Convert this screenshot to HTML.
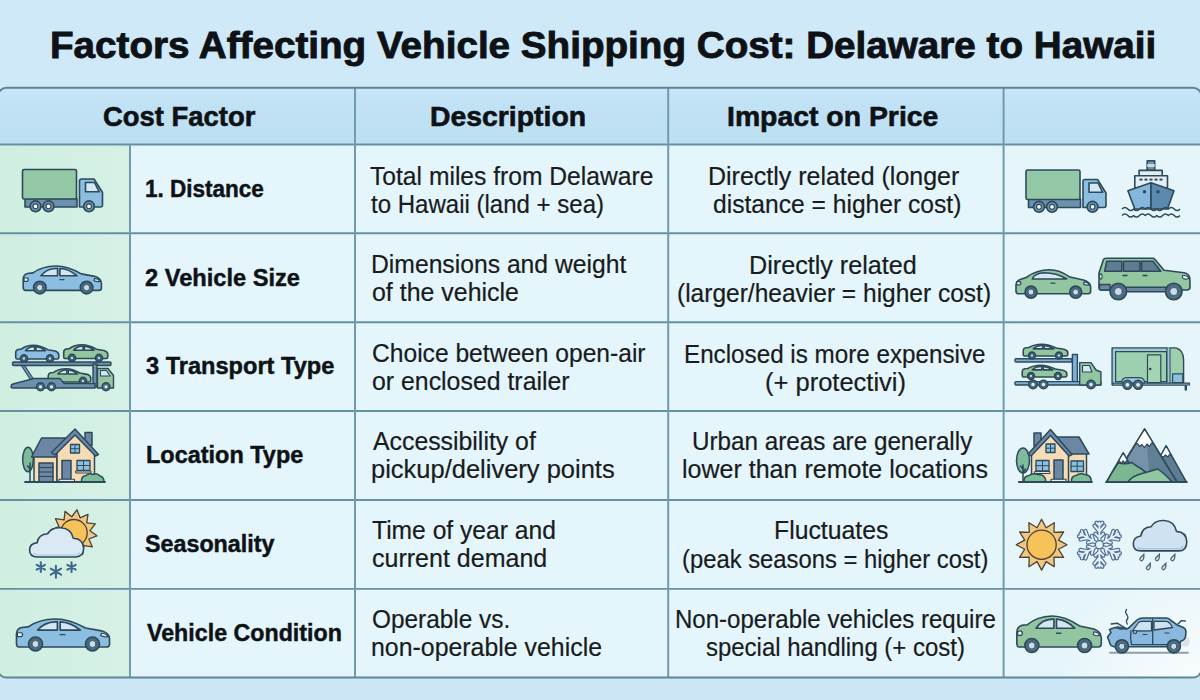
<!DOCTYPE html>
<html><head><meta charset="utf-8">
<style>
html,body{margin:0;padding:0;}
body{width:1200px;height:700px;overflow:hidden;position:relative;background:#cfe7f5;font-family:"Liberation Sans",sans-serif;color:#141414;}
#bg{position:absolute;left:0;top:0;}
.t{position:absolute;white-space:nowrap;transform-origin:0 0;-webkit-text-stroke:0.25px currentColor;}
</style></head><body>
<svg id="bg" width="1200" height="700" viewBox="0 0 1200 700"><defs><linearGradient id="gh" x1="0" y1="0" x2="0" y2="1"><stop offset="0" stop-color="#c8e6f6"/><stop offset="0.25" stop-color="#c1e2f4"/><stop offset="1" stop-color="#bcdff2"/></linearGradient><linearGradient id="gi" x1="0" y1="0" x2="1" y2="0"><stop offset="0" stop-color="#cfeee0"/><stop offset="1" stop-color="#d6f1e6"/></linearGradient><linearGradient id="gbg" x1="0" y1="0" x2="0" y2="1"><stop offset="0" stop-color="#cfe9f8"/><stop offset="1" stop-color="#cde6f5"/></linearGradient></defs><rect x="0" y="0" width="1200" height="700" fill="url(#gbg)"/><defs><clipPath id="tc"><rect x="-2.0" y="87.7" width="1203.5" height="589.9" rx="8.5" ry="8.5"/></clipPath></defs><g clip-path="url(#tc)"><rect x="-5" y="87.7" width="1210" height="56.8" fill="url(#gh)"/><rect x="-5" y="144.5" width="135.0" height="533.1" fill="url(#gi)"/><rect x="130.0" y="144.5" width="873.6" height="533.1" fill="#e4f6fb"/><rect x="1003.6" y="144.5" width="210.0" height="533.1" fill="#e6f5fa"/><defs><radialGradient id="glow" cx="1200" cy="690" r="140" gradientUnits="userSpaceOnUse"><stop offset="0" stop-color="#ffffff" stop-opacity="0.8"/><stop offset="1" stop-color="#ffffff" stop-opacity="0"/></radialGradient></defs><rect x="1003" y="589" width="200" height="90" fill="url(#glow)"/></g><g stroke="#6691a3" stroke-width="1.9"><line x1="-2.0" y1="144.5" x2="1201.5" y2="144.5"/><line x1="-2.0" y1="233.3" x2="1201.5" y2="233.3"/><line x1="-2.0" y1="322.2" x2="1201.5" y2="322.2"/><line x1="-2.0" y1="411.0" x2="1201.5" y2="411.0"/><line x1="-2.0" y1="500.0" x2="1201.5" y2="500.0"/><line x1="-2.0" y1="588.9" x2="1201.5" y2="588.9"/></g><g stroke="#709bac" stroke-width="2"><line x1="130.0" y1="144.5" x2="130.0" y2="677.6"/><line x1="355.0" y1="87.7" x2="355.0" y2="677.6"/><line x1="668.2" y1="87.7" x2="668.2" y2="677.6"/><line x1="1003.6" y1="87.7" x2="1003.6" y2="677.6"/></g><rect x="-2.0" y="87.7" width="1203.5" height="589.9" rx="8.5" ry="8.5" fill="none" stroke="#5f8696" stroke-width="2.0"/></svg>
<div class="t" style="left:49.52px;top:26.95px;font-size:37.50px;line-height:37.50px;font-weight:700;color:#0e1216;transform:scaleX(1.0301);-webkit-text-stroke:0.90px #0e1216">Factors Affecting Vehicle Shipping Cost: Delaware to Hawaii</div><div class="t" style="left:102.61px;top:103.09px;font-size:28.00px;line-height:28.00px;font-weight:700;color:#0e1216;transform:scaleX(0.9799);-webkit-text-stroke:0.60px #0e1216">Cost Factor</div><div class="t" style="left:430.18px;top:103.09px;font-size:28.00px;line-height:28.00px;font-weight:700;color:#0e1216;transform:scaleX(1.0133);-webkit-text-stroke:0.60px #0e1216">Description</div><div class="t" style="left:727.18px;top:103.09px;font-size:28.00px;line-height:28.00px;font-weight:700;color:#0e1216;transform:scaleX(1.0136);-webkit-text-stroke:0.60px #0e1216">Impact on Price</div><div class="t" style="left:144.88px;top:178.00px;font-size:23.50px;line-height:23.50px;font-weight:700;color:#0e1216;transform:scaleX(0.9580);-webkit-text-stroke:0.45px #0e1216">1. Distance</div><div class="t" style="left:144.79px;top:267.00px;font-size:23.50px;line-height:23.50px;font-weight:700;color:#0e1216;transform:scaleX(1.0047);-webkit-text-stroke:0.45px #0e1216">2 Vehicle Size</div><div class="t" style="left:145.79px;top:355.40px;font-size:23.50px;line-height:23.50px;font-weight:700;color:#0e1216;transform:scaleX(1.0038);-webkit-text-stroke:0.45px #0e1216">3 Transport Type</div><div class="t" style="left:145.80px;top:444.30px;font-size:23.50px;line-height:23.50px;font-weight:700;color:#0e1216;transform:scaleX(0.9982);-webkit-text-stroke:0.45px #0e1216">Location Type</div><div class="t" style="left:144.81px;top:533.00px;font-size:23.50px;line-height:23.50px;font-weight:700;color:#0e1216;transform:scaleX(0.9908);-webkit-text-stroke:0.45px #0e1216">Seasonality</div><div class="t" style="left:146.80px;top:621.60px;font-size:23.50px;line-height:23.50px;font-weight:700;color:#0e1216;transform:scaleX(0.9882);-webkit-text-stroke:0.45px #0e1216">Vehicle Condition</div><div class="t" style="left:370.02px;top:163.58px;font-size:25.00px;line-height:25.00px;font-weight:400;color:#191b1d;transform:scaleX(0.9854);-webkit-text-stroke:0.20px #191b1d">Total miles from Delaware</div><div class="t" style="left:371.01px;top:191.68px;font-size:25.00px;line-height:25.00px;font-weight:400;color:#191b1d;transform:scaleX(0.9612);-webkit-text-stroke:0.20px #191b1d">to Hawaii (land + sea)</div><div class="t" style="left:371.02px;top:251.83px;font-size:25.00px;line-height:25.00px;font-weight:400;color:#191b1d;transform:scaleX(0.9879);-webkit-text-stroke:0.20px #191b1d">Dimensions and weight</div><div class="t" style="left:372.00px;top:279.93px;font-size:25.00px;line-height:25.00px;font-weight:400;color:#191b1d;transform:scaleX(0.9972);-webkit-text-stroke:0.20px #191b1d">of the vehicle</div><div class="t" style="left:371.99px;top:341.08px;font-size:25.00px;line-height:25.00px;font-weight:400;color:#191b1d;transform:scaleX(0.9842);-webkit-text-stroke:0.20px #191b1d">Choice between open-air</div><div class="t" style="left:371.98px;top:369.18px;font-size:25.00px;line-height:25.00px;font-weight:400;color:#191b1d;transform:scaleX(0.9945);-webkit-text-stroke:0.20px #191b1d">or enclosed trailer</div><div class="t" style="left:373.00px;top:428.58px;font-size:25.00px;line-height:25.00px;font-weight:400;color:#191b1d;transform:scaleX(0.9932);-webkit-text-stroke:0.20px #191b1d">Accessibility of</div><div class="t" style="left:370.96px;top:456.68px;font-size:25.00px;line-height:25.00px;font-weight:400;color:#191b1d;transform:scaleX(1.0195);-webkit-text-stroke:0.20px #191b1d">pickup/delivery points</div><div class="t" style="left:372.01px;top:517.83px;font-size:25.00px;line-height:25.00px;font-weight:400;color:#191b1d;transform:scaleX(0.9853);-webkit-text-stroke:0.20px #191b1d">Time of year and</div><div class="t" style="left:372.00px;top:545.93px;font-size:25.00px;line-height:25.00px;font-weight:400;color:#191b1d;transform:scaleX(1.0007);-webkit-text-stroke:0.20px #191b1d">current demand</div><div class="t" style="left:372.03px;top:606.83px;font-size:25.00px;line-height:25.00px;font-weight:400;color:#191b1d;transform:scaleX(0.9747);-webkit-text-stroke:0.20px #191b1d">Operable vs.</div><div class="t" style="left:371.01px;top:634.93px;font-size:25.00px;line-height:25.00px;font-weight:400;color:#191b1d;transform:scaleX(0.9954);-webkit-text-stroke:0.20px #191b1d">non-operable vehicle</div><div class="t" style="left:708.40px;top:163.73px;font-size:25.00px;line-height:25.00px;font-weight:400;color:#191b1d;transform:scaleX(0.9992);-webkit-text-stroke:0.20px #191b1d">Directly related (longer</div><div class="t" style="left:713.02px;top:191.83px;font-size:25.00px;line-height:25.00px;font-weight:400;color:#191b1d;transform:scaleX(0.9848);-webkit-text-stroke:0.20px #191b1d">distance = higher cost)</div><div class="t" style="left:748.59px;top:253.13px;font-size:25.00px;line-height:25.00px;font-weight:400;color:#191b1d;transform:scaleX(1.0065);-webkit-text-stroke:0.20px #191b1d">Directly related</div><div class="t" style="left:677.24px;top:281.23px;font-size:25.00px;line-height:25.00px;font-weight:400;color:#191b1d;transform:scaleX(0.9806);-webkit-text-stroke:0.20px #191b1d">(larger/heavier = higher cost)</div><div class="t" style="left:684.07px;top:341.83px;font-size:25.00px;line-height:25.00px;font-weight:400;color:#191b1d;transform:scaleX(0.9687);-webkit-text-stroke:0.20px #191b1d">Enclosed is more expensive</div><div class="t" style="left:764.57px;top:369.93px;font-size:25.00px;line-height:25.00px;font-weight:400;color:#191b1d;transform:scaleX(1.0201);-webkit-text-stroke:0.20px #191b1d">(+ protectivi)</div><div class="t" style="left:692.45px;top:429.23px;font-size:25.00px;line-height:25.00px;font-weight:400;color:#191b1d;transform:scaleX(0.9696);-webkit-text-stroke:0.20px #191b1d">Urban areas are generally</div><div class="t" style="left:682.01px;top:457.33px;font-size:25.00px;line-height:25.00px;font-weight:400;color:#191b1d;transform:scaleX(1.0009);-webkit-text-stroke:0.20px #191b1d">lower than remote locations</div><div class="t" style="left:774.42px;top:518.43px;font-size:25.00px;line-height:25.00px;font-weight:400;color:#191b1d;transform:scaleX(0.9910);-webkit-text-stroke:0.20px #191b1d">Fluctuates</div><div class="t" style="left:682.07px;top:546.53px;font-size:25.00px;line-height:25.00px;font-weight:400;color:#191b1d;transform:scaleX(0.9524);-webkit-text-stroke:0.20px #191b1d">(peak seasons = higher cost)</div><div class="t" style="left:674.87px;top:607.33px;font-size:25.00px;line-height:25.00px;font-weight:400;color:#191b1d;transform:scaleX(0.9619);-webkit-text-stroke:0.20px #191b1d">Non-operable vehicles require</div><div class="t" style="left:706.25px;top:635.43px;font-size:25.00px;line-height:25.00px;font-weight:400;color:#191b1d;transform:scaleX(0.9577);-webkit-text-stroke:0.20px #191b1d">special handling (+ cost)</div>
<svg id="icons" style="position:absolute;left:0;top:0" width="1200" height="700" viewBox="0 0 1200 700"><g transform="translate(0.00,0.00)" stroke="#2c4a5a" stroke-width="1.60" stroke-linejoin="round"><rect x="25" y="198.5" width="52" height="8.5" fill="#6c91ae"/><rect x="22.5" y="169.5" width="54" height="29.5" rx="1.5" fill="#93c8a6"/><path d="M79.5,207 V181 Q79.5,179 81.5,179 H94 L102.5,192.5 V205 Q102.5,207 100.5,207 Z" fill="#8bbee1"/><path d="M85.5,182.5 H94.5 L99.2,191.8 H85.5 Z" fill="#d6e8f3"/><circle cx="35.5" cy="206.3" r="5.4" fill="#6c91ae"/><circle cx="35.5" cy="206.3" r="2.4" fill="#ffffff" stroke-width="1.1"/><circle cx="48.5" cy="206.3" r="5.4" fill="#6c91ae"/><circle cx="48.5" cy="206.3" r="2.4" fill="#ffffff" stroke-width="1.1"/><circle cx="89.0" cy="206.3" r="5.4" fill="#6c91ae"/><circle cx="89.0" cy="206.3" r="2.4" fill="#ffffff" stroke-width="1.1"/></g><g transform="translate(1003.50,0.50)" stroke="#2c4a5a" stroke-width="1.60" stroke-linejoin="round"><rect x="25" y="198.5" width="52" height="8.5" fill="#6c91ae"/><rect x="22.5" y="169.5" width="54" height="29.5" rx="1.5" fill="#93c8a6"/><path d="M79.5,207 V181 Q79.5,179 81.5,179 H94 L102.5,192.5 V205 Q102.5,207 100.5,207 Z" fill="#8bbee1"/><path d="M85.5,182.5 H94.5 L99.2,191.8 H85.5 Z" fill="#d6e8f3"/><circle cx="35.5" cy="206.3" r="5.4" fill="#6c91ae"/><circle cx="35.5" cy="206.3" r="2.4" fill="#ffffff" stroke-width="1.1"/><circle cx="48.5" cy="206.3" r="5.4" fill="#6c91ae"/><circle cx="48.5" cy="206.3" r="2.4" fill="#ffffff" stroke-width="1.1"/><circle cx="89.0" cy="206.3" r="5.4" fill="#6c91ae"/><circle cx="89.0" cy="206.3" r="2.4" fill="#ffffff" stroke-width="1.1"/></g><g stroke="#2c4a5a" stroke-width="1.60" stroke-linejoin="round" fill="none"><rect x="1147.2" y="160.7" width="7.5" height="9.7" fill="#7394ad"/><rect x="1147.2" y="164" width="7.5" height="3" fill="#c9d9e4" stroke="none"/><rect x="1139.1" y="170.4" width="23.1" height="5.3" fill="#e4edf3"/><rect x="1134.8" y="175.7" width="32.7" height="12" fill="#e6eef4"/><rect x="1139.5" y="178.6" width="3" height="2" fill="#2c4a5a" stroke="none"/><rect x="1144.5" y="178.6" width="3" height="2" fill="#2c4a5a" stroke="none"/><rect x="1149.5" y="178.6" width="3" height="2" fill="#2c4a5a" stroke="none"/><rect x="1154.5" y="178.6" width="3" height="2" fill="#2c4a5a" stroke="none"/><rect x="1159.5" y="178.6" width="3" height="2" fill="#2c4a5a" stroke="none"/><path d="M1151,182.7 L1127.9,190.7 L1134.8,209 H1151 Z" fill="#84b6de"/><path d="M1151,182.7 L1174,190.7 L1167.5,209 H1151 Z" fill="#5c8aaf"/><circle cx="1144.5" cy="191.8" r="0.9" fill="#2c4a5a"/><circle cx="1158" cy="191.8" r="0.9" fill="#2c4a5a"/><path d="M1122.0,209.0 Q1124.9,205.8 1127.8,209.0 T1133.6,209.0 Q1136.5,212.2 1139.4,209.0 T1145.2,209.0 Q1148.1,205.8 1151.0,209.0 T1156.8,209.0 Q1159.7,212.2 1162.6,209.0 T1168.4,209.0 Q1171.3,205.8 1174.2,209.0 T1180.0,209.0" stroke-width="1.5"/><path d="M1122.0,215.5 Q1124.9,212.3 1127.8,215.5 T1133.6,215.5 Q1136.5,218.7 1139.4,215.5 T1145.2,215.5 Q1148.1,212.3 1151.0,215.5 T1156.8,215.5 Q1159.7,218.7 1162.6,215.5 T1168.4,215.5 Q1171.3,212.3 1174.2,215.5 T1180.0,215.5" stroke-width="1.5"/></g><g stroke="#2c4a5a" stroke-width="1.60" stroke-linejoin="round" stroke-linecap="round"><path d="M25.17,290.40 Q23.20,290.40 23.20,287.09 L23.20,278.83 Q23.59,274.28 27.54,273.45 L33.07,272.87 Q41.76,266.26 55.98,266.01 Q67.83,266.01 81.26,273.87 L94.69,276.35 Q101.01,278.41 101.41,282.96 L101.41,287.92 Q101.41,290.40 98.64,290.40 Z" fill="#8bbee1"/><path d="M40.97,275.69 Q46.50,268.74 55.98,268.49 L57.56,268.49 L57.56,275.69 Z" fill="#d3e6f2"/><path d="M59.93,268.49 Q68.62,268.74 76.92,275.69 L59.93,275.69 Z" fill="#d3e6f2"/><path d="M23.98,278.00 L27.54,278.00 Q29.12,279.65 27.54,281.31 L23.98,281.31 Z" fill="#e8f1f6" stroke-width="1.2"/><path d="M94.69,278.41 Q98.64,278.83 100.22,281.31 Q96.27,282.13 93.90,280.48 Z" fill="#e8f1f6" stroke-width="1.2"/><path d="M59.93,279.65 L63.88,279.65" stroke-width="1.4" fill="none"/><circle cx="39.80" cy="287.60" r="6.30" fill="#4a6a80"/><circle cx="39.80" cy="287.60" r="3.15" fill="#c9dbe7" stroke-width="0.8"/><circle cx="86.60" cy="287.60" r="6.30" fill="#4a6a80"/><circle cx="86.60" cy="287.60" r="3.15" fill="#c9dbe7" stroke-width="0.8"/></g><g stroke="#2c4a5a" stroke-width="1.60" stroke-linejoin="round" stroke-linecap="round"><path d="M1017.86,293.70 Q1015.98,293.70 1015.98,290.46 L1015.98,284.79 Q1016.35,280.74 1020.12,279.52 L1026.16,277.50 Q1036.71,269.80 1049.53,269.80 Q1059.33,269.80 1069.89,277.09 L1083.46,279.93 Q1090.25,281.95 1090.62,286.41 L1090.62,291.27 Q1090.62,293.70 1087.98,293.70 Z" fill="#93c6a0"/><path d="M1032.19,278.96 Q1034.45,273.29 1044.25,272.80 Q1056.32,272.80 1066.72,278.96 Z" fill="#d3e6f2"/><path d="M1016.73,281.55 L1020.12,281.55 Q1021.63,283.17 1020.12,284.79 L1016.73,284.79 Z" fill="#e8f1f6" stroke-width="1.2"/><path d="M1084.21,281.95 Q1087.98,282.36 1089.49,284.79 Q1085.72,285.60 1083.46,283.98 Z" fill="#e8f1f6" stroke-width="1.2"/><path d="M1051.04,283.17 L1054.81,283.17" stroke-width="1.4" fill="none"/><circle cx="1031.00" cy="292.10" r="6.00" fill="#4a6a80"/><circle cx="1031.00" cy="292.10" r="3.00" fill="#c9dbe7" stroke-width="0.8"/><circle cx="1075.70" cy="292.10" r="6.00" fill="#4a6a80"/><circle cx="1075.70" cy="292.10" r="3.00" fill="#c9dbe7" stroke-width="0.8"/></g><g stroke="#2c4a5a" stroke-width="1.60" stroke-linejoin="round" stroke-linecap="round"><path d="M18.82,647.00 Q16.47,647.00 16.47,643.20 L16.47,633.70 Q16.94,628.48 21.64,627.52 L28.22,626.86 Q38.56,619.26 55.48,618.98 Q69.58,618.98 85.56,628.00 L101.54,630.85 Q109.06,633.23 109.53,638.45 L109.53,644.15 Q109.53,647.00 106.24,647.00 Z" fill="#8bbee1"/><path d="M37.62,630.09 Q44.20,622.11 55.48,621.83 L57.36,621.83 L57.36,630.09 Z" fill="#d3e6f2"/><path d="M60.18,621.83 Q70.52,622.11 80.39,630.09 L60.18,630.09 Z" fill="#d3e6f2"/><path d="M17.41,632.75 L21.64,632.75 Q23.52,634.65 21.64,636.55 L17.41,636.55 Z" fill="#e8f1f6" stroke-width="1.2"/><path d="M101.54,633.23 Q106.24,633.70 108.12,636.55 Q103.42,637.50 100.60,635.60 Z" fill="#e8f1f6" stroke-width="1.2"/><path d="M60.18,634.65 L64.88,634.65" stroke-width="1.4" fill="none"/><circle cx="35.50" cy="644.00" r="7.00" fill="#4a6a80"/><circle cx="35.50" cy="644.00" r="3.50" fill="#c9dbe7" stroke-width="0.8"/><circle cx="92.50" cy="644.00" r="7.00" fill="#4a6a80"/><circle cx="92.50" cy="644.00" r="3.50" fill="#c9dbe7" stroke-width="0.8"/></g><g stroke="#2c4a5a" stroke-width="1.60" stroke-linejoin="round" stroke-linecap="round"><path d="M1018.96,647.00 Q1016.83,647.00 1016.83,642.79 L1016.83,632.25 Q1017.25,626.46 1021.52,625.41 L1027.49,624.67 Q1036.87,616.24 1052.23,615.93 Q1065.02,615.93 1079.52,625.93 L1094.02,629.09 Q1100.85,631.73 1101.27,637.52 L1101.27,643.84 Q1101.27,647.00 1098.29,647.00 Z" fill="#93c6a0"/><path d="M1036.02,628.25 Q1041.99,619.40 1052.23,619.09 L1053.93,619.09 L1053.93,628.25 Z" fill="#d3e6f2"/><path d="M1056.49,619.09 Q1065.87,619.40 1074.83,628.25 L1056.49,628.25 Z" fill="#d3e6f2"/><path d="M1017.68,631.20 L1021.52,631.20 Q1023.22,633.31 1021.52,635.41 L1017.68,635.41 Z" fill="#e8f1f6" stroke-width="1.2"/><path d="M1094.02,631.73 Q1098.29,632.25 1099.99,635.41 Q1095.73,636.47 1093.17,634.36 Z" fill="#e8f1f6" stroke-width="1.2"/><path d="M1056.49,633.31 L1060.76,633.31" stroke-width="1.4" fill="none"/><circle cx="1031.80" cy="645.50" r="7.00" fill="#4a6a80"/><circle cx="1031.80" cy="645.50" r="3.50" fill="#c9dbe7" stroke-width="0.8"/><circle cx="1084.60" cy="645.50" r="7.00" fill="#4a6a80"/><circle cx="1084.60" cy="645.50" r="3.50" fill="#c9dbe7" stroke-width="0.8"/></g><g stroke="#2c4a5a" stroke-width="1.60" stroke-linejoin="round" stroke-linecap="round"><path d="M1101,290 Q1099,290 1099,287 L1099,273 L1103.5,259.5 Q1104,258.3 1106,258.3 H1152.5 Q1154,258.3 1155,259.5 L1164,270.2 L1184,272.8 Q1189,273.8 1189.8,278 L1190,287 Q1190,290 1187,290 Z" fill="#93c7a0"/><path d="M1100,284.5 H1110 V290 H1101 Q1099.3,290 1099.3,288 Z M1126,287.2 H1166 V291.8 H1126 Z" fill="#6b889e" stroke-width="1.4"/><path d="M1106.7,261.3 H1121.8 V271.3 H1104.6 Z" fill="#5f7c94"/><path d="M1123.5,261.3 H1140 V271.3 H1123.5 Z" fill="#5f7c94"/><path d="M1141.5,261.3 H1153 L1160.8,271.3 H1141.5 Z" fill="#5f7c94"/><path d="M1123,275.5 H1127 M1143,275.5 H1147" stroke-width="1.4" fill="none"/><ellipse cx="1100.8" cy="276.5" rx="1.3" ry="2.6" fill="#e8f1f6" stroke-width="1.1"/><path d="M1182.5,275.5 Q1188,275 1188.8,278.5 Q1184,280 1182.5,277.8 Z" fill="#e8f1f6" stroke-width="1.1"/><circle cx="1118.30" cy="291.5" r="8.3" fill="#4d6d83"/><circle cx="1118.30" cy="291.5" r="4.0" fill="#c9dbe7" stroke-width="0.8"/><circle cx="1173.75" cy="291.5" r="8.3" fill="#4d6d83"/><circle cx="1173.75" cy="291.5" r="4.0" fill="#c9dbe7" stroke-width="0.8"/></g><g stroke="#2c4a5a" stroke-width="1.4" stroke-linejoin="round" stroke-linecap="round"><path d="M22,364 L33,381" stroke="#2c4a5a" stroke-width="4"/><path d="M22,364 L33,381" stroke="#6c91ae" stroke-width="2"/><rect x="12.5" y="362" width="98.5" height="3.5" rx="1" fill="#6c91ae"/><rect x="93" y="364" width="4" height="23" fill="#6c91ae"/></g><g stroke="#2c4a5a" stroke-width="1.60" stroke-linejoin="round" stroke-linecap="round"><path d="M16.80,359.00 Q15.72,359.00 15.72,357.13 L15.72,352.47 Q15.94,349.90 18.11,349.43 L21.16,349.11 Q25.94,345.37 33.77,345.23 Q40.30,345.23 47.69,349.67 L55.09,351.07 Q58.56,352.23 58.78,354.80 L58.78,357.60 Q58.78,359.00 57.26,359.00 Z" fill="#8bbee1"/><path d="M25.51,350.69 Q28.55,346.77 33.77,346.63 L34.64,346.63 L34.64,350.69 Z" fill="#d3e6f2"/><path d="M35.95,346.63 Q40.73,346.77 45.30,350.69 L35.95,350.69 Z" fill="#d3e6f2"/><circle cx="24.00" cy="358.50" r="3.60" fill="#4a6a80"/><circle cx="24.00" cy="358.50" r="1.80" fill="#c9dbe7" stroke-width="0.8"/><circle cx="50.00" cy="358.50" r="3.60" fill="#4a6a80"/><circle cx="50.00" cy="358.50" r="1.80" fill="#c9dbe7" stroke-width="0.8"/></g><g stroke="#2c4a5a" stroke-width="1.60" stroke-linejoin="round" stroke-linecap="round"><path d="M64.83,358.50 Q63.72,358.50 63.72,356.63 L63.72,351.97 Q63.95,349.40 66.17,348.93 L69.28,348.61 Q74.18,344.87 82.19,344.73 Q88.86,344.73 96.43,349.17 L104.00,350.57 Q107.56,351.73 107.78,354.30 L107.78,357.10 Q107.78,358.50 106.22,358.50 Z" fill="#93c6a0"/><path d="M73.73,350.19 Q76.85,346.27 82.19,346.13 L83.08,346.13 L83.08,350.19 Z" fill="#d3e6f2"/><path d="M84.41,346.13 Q89.31,346.27 93.98,350.19 L84.41,350.19 Z" fill="#d3e6f2"/><circle cx="72.00" cy="358.00" r="3.60" fill="#4a6a80"/><circle cx="72.00" cy="358.00" r="1.80" fill="#c9dbe7" stroke-width="0.8"/><circle cx="99.00" cy="358.00" r="3.60" fill="#4a6a80"/><circle cx="99.00" cy="358.00" r="1.80" fill="#c9dbe7" stroke-width="0.8"/></g><g stroke="#2c4a5a" stroke-width="1.60" stroke-linejoin="round" stroke-linecap="round"><path d="M49.29,382.00 Q48.22,382.00 48.22,380.20 L48.22,375.70 Q48.43,373.23 50.58,372.77 L53.59,372.46 Q58.32,368.86 66.06,368.73 Q72.51,368.73 79.82,373.00 L87.13,374.35 Q90.57,375.48 90.78,377.95 L90.78,380.65 Q90.78,382.00 89.28,382.00 Z" fill="#93c6a0"/><path d="M57.89,373.99 Q60.90,370.21 66.06,370.07 L66.92,370.07 L66.92,373.99 Z" fill="#d3e6f2"/><path d="M68.21,370.07 Q72.94,370.21 77.45,373.99 L68.21,373.99 Z" fill="#d3e6f2"/><circle cx="83.00" cy="381.00" r="3.60" fill="#4a6a80"/><circle cx="83.00" cy="381.00" r="1.80" fill="#c9dbe7" stroke-width="0.8"/></g><g stroke="#2c4a5a" stroke-width="1.4" stroke-linejoin="round" stroke-linecap="round"><path d="M11,386.5 Q11,384.5 13,384 L34,378.5 H60 L64,383.5 H95 V388 H13 Q11,388 11,386.5 Z" fill="#6c91ae"/><path d="M97.5,388 V368.5 H108 L113.5,375.5 V388 Z" fill="#93c6a0"/><path d="M100.5,370.5 H106.5 L110,376 H100.5 Z" fill="#d3e6f2" stroke-width="1.1"/><circle cx="40.5" cy="386.8" r="4" fill="#4a6a80"/><circle cx="40.5" cy="386.8" r="1.6" fill="#e6eef4" stroke="none"/><circle cx="51.5" cy="386.8" r="4" fill="#4a6a80"/><circle cx="51.5" cy="386.8" r="1.6" fill="#e6eef4" stroke="none"/><circle cx="106.0" cy="386.8" r="4" fill="#4a6a80"/><circle cx="106.0" cy="386.8" r="1.6" fill="#e6eef4" stroke="none"/></g><g stroke="#2c4a5a" stroke-width="1.4" stroke-linejoin="round" stroke-linecap="round"><rect x="1015" y="358.8" width="57" height="3.2" rx="1" fill="#7fb0d8"/><rect x="1072.4" y="354.5" width="5" height="29" fill="#7fb0d8"/></g><g stroke="#2c4a5a" stroke-width="1.60" stroke-linejoin="round" stroke-linecap="round"><path d="M1024.35,356.00 Q1023.23,356.00 1023.23,354.40 L1023.23,350.40 Q1023.45,348.20 1025.70,347.80 L1028.85,347.52 Q1033.80,344.32 1041.90,344.20 Q1048.65,344.20 1056.30,348.00 L1063.95,349.20 Q1067.55,350.20 1067.78,352.40 L1067.78,354.80 Q1067.78,356.00 1066.20,356.00 Z" fill="#93c6a0"/><path d="M1033.35,348.88 Q1036.50,345.52 1041.90,345.40 L1042.80,345.40 L1042.80,348.88 Z" fill="#d3e6f2"/><path d="M1044.15,345.40 Q1049.10,345.52 1053.83,348.88 L1044.15,348.88 Z" fill="#d3e6f2"/><circle cx="1032.00" cy="355.50" r="3.40" fill="#4a6a80"/><circle cx="1032.00" cy="355.50" r="1.70" fill="#c9dbe7" stroke-width="0.8"/><circle cx="1059.00" cy="355.50" r="3.40" fill="#4a6a80"/><circle cx="1059.00" cy="355.50" r="1.70" fill="#c9dbe7" stroke-width="0.8"/></g><g stroke="#2c4a5a" stroke-width="1.60" stroke-linejoin="round" stroke-linecap="round"><path d="M1023.35,377.00 Q1022.23,377.00 1022.23,375.40 L1022.23,371.40 Q1022.45,369.20 1024.70,368.80 L1027.85,368.52 Q1032.80,365.32 1040.90,365.20 Q1047.65,365.20 1055.30,369.00 L1062.95,370.20 Q1066.55,371.20 1066.78,373.40 L1066.78,375.80 Q1066.78,377.00 1065.20,377.00 Z" fill="#93c6a0"/><path d="M1032.35,369.88 Q1035.50,366.52 1040.90,366.40 L1041.80,366.40 L1041.80,369.88 Z" fill="#d3e6f2"/><path d="M1043.15,366.40 Q1048.10,366.52 1052.83,369.88 L1043.15,369.88 Z" fill="#d3e6f2"/><circle cx="1031.00" cy="376.00" r="3.40" fill="#4a6a80"/><circle cx="1031.00" cy="376.00" r="1.70" fill="#c9dbe7" stroke-width="0.8"/><circle cx="1058.00" cy="376.00" r="3.40" fill="#4a6a80"/><circle cx="1058.00" cy="376.00" r="1.70" fill="#c9dbe7" stroke-width="0.8"/></g><g stroke="#2c4a5a" stroke-width="1.4" stroke-linejoin="round" stroke-linecap="round"><rect x="1015" y="381.6" width="86" height="3.4" rx="1" fill="#7fb0d8"/><path d="M1079.7,385 V362.6 H1091 L1096,370 L1100.9,372 V385 Z" fill="#93c6a0"/><path d="M1082.5,365.5 H1089.5 L1092,372 H1082.5 Z" fill="#d3e6f2" stroke-width="1.1"/><circle cx="1033.0" cy="384.5" r="4.3" fill="#4a6a80"/><circle cx="1033.0" cy="384.5" r="1.7" fill="#e6eef4" stroke="none"/><circle cx="1043.5" cy="384.5" r="4.3" fill="#4a6a80"/><circle cx="1043.5" cy="384.5" r="1.7" fill="#e6eef4" stroke="none"/><circle cx="1091.0" cy="384.5" r="4.3" fill="#4a6a80"/><circle cx="1091.0" cy="384.5" r="1.7" fill="#e6eef4" stroke="none"/></g><g stroke="#2c4a5a" stroke-width="1.4" stroke-linejoin="round" stroke-linecap="round"><path d="M1185.8,385 V389.5" stroke-width="2.4"/><path d="M1112.1,384.8 V347.9 H1175.8 Q1183.6,350 1183.6,359.7 V384.8 Z" fill="#9dcfae"/><rect x="1114.2" y="350.2" width="53.8" height="32.8" fill="none" stroke="#9cc8e0" stroke-width="2.6"/><rect x="1115.6" y="351.6" width="51" height="30" fill="#9dd0ae" stroke-width="1.2"/><path d="M1168.6,348.3 V384.5" stroke="#9cc8e0" stroke-width="2.2"/><path d="M1170,348.3 V384.5 M1167,348.3 V384.5" stroke-width="1.0"/><path d="M1121.9,384.5 V381 Q1123,377.7 1127,377.7 H1139 Q1143.5,377.7 1144.3,381 V384.5" fill="#9cc8e0" stroke-width="1.2"/><rect x="1147.5" y="354.9" width="13.3" height="27.6" fill="#a3d4b3" stroke-width="1.2"/><circle cx="1150.2" cy="369" r="0.6" fill="#2c4a5a"/><rect x="1172.6" y="373.8" width="10.2" height="8.7" fill="#8ac0e0" stroke-width="1.2"/><path d="M1112.5,383.2 H1189.5 V385 H1112.5 Z" fill="#9cc8e0" stroke-width="1.2"/><circle cx="1127.4" cy="384.8" r="4.5" fill="#4d6d83"/><circle cx="1127.4" cy="384.8" r="1.9" fill="#e6eef4" stroke="none"/><circle cx="1138.0" cy="384.8" r="4.5" fill="#4d6d83"/><circle cx="1138.0" cy="384.8" r="1.9" fill="#e6eef4" stroke="none"/></g><g stroke="#2c4a5a" stroke-width="1.5" stroke-linejoin="round" stroke-linecap="round"><ellipse cx="28" cy="459.5" rx="5.3" ry="12.3" fill="#7dbb9b"/><path d="M30,463 V482 M30,469 L27.5,466" fill="none"/><rect x="34" y="456" width="23" height="26" fill="#f5dbb6"/><path d="M31.5,457 L41.5,438 H66 L56,457 Z" fill="#6c87a6"/><rect x="39" y="463" width="14" height="19" fill="#6c87a6"/><path d="M39,467.5 H53 M39,472 H53 M39,476.5 H53" stroke-width="1" fill="none"/><rect x="85" y="432.5" width="7" height="13" fill="#6c87a6"/><path d="M57,482 V452 L75,433 L94.5,453 V482 Z" fill="#f5dbb6"/><path d="M51.5,452.5 L75,429 L98.5,454.5 L95.5,456 L75,435 L55,455 Z" fill="#6c87a6"/><rect x="70.5" y="444.5" width="9" height="8.5" fill="#8cc0e0" stroke-width="1.3"/><path d="M75,444.5 V453 M70.5,448.7 H79.5" stroke-width="1" fill="none"/><rect x="62" y="460.5" width="9" height="19" fill="#6c87a6"/><rect x="59" y="479.3" width="15.5" height="2.7" fill="#e9eef2" stroke-width="1.1"/><rect x="77" y="460.5" width="13" height="10" fill="#8cc0e0" stroke-width="1.3"/><path d="M83.5,460.5 V470.5 M77,465.5 H90" stroke-width="1" fill="none"/><rect x="76" y="471" width="15" height="2" fill="#f5dbb6" stroke-width="1"/><path d="M81.5,482 Q81,476 86,475.5 Q89,472.5 93,474.5 Q97,472.5 100,476 Q104,477 104,482 Z" fill="#7cbf96"/><path d="M25,482 H105" stroke-width="1.8"/></g><g stroke="#2c4a5a" stroke-width="1.5" stroke-linejoin="round" stroke-linecap="round"><ellipse cx="1023" cy="460.5" rx="6.5" ry="12.5" fill="#7dbb9b"/><path d="M1023,465 V482 M1023,469 L1020.5,466 M1023,472 L1025.5,469" fill="none"/><rect x="1068" y="452" width="18.5" height="30" fill="#f5dbb6"/><path d="M1052,437 H1079 L1089,454 H1062 Z" fill="#6c87a6"/><rect x="1034" y="433" width="7" height="13" fill="#6c87a6"/><path d="M1031.5,482 V452 L1050.5,433.5 L1068.5,452 V482 Z" fill="#f5dbb6"/><path d="M1028,454 L1050.5,429.6 L1072,454.5 L1069,456 L1050.5,435.5 L1031,456 Z" fill="#6c87a6"/><rect x="1046" y="444" width="9" height="8.5" fill="#8cc0e0" stroke-width="1.3"/><path d="M1050.5,444 V452.5 M1046,448.2 H1055" stroke-width="1" fill="none"/><rect x="1036" y="460.5" width="13" height="10.5" fill="#8cc0e0" stroke-width="1.3"/><path d="M1042.5,460.5 V471 M1036,465.7 H1049" stroke-width="1" fill="none"/><rect x="1035" y="471.5" width="15" height="2" fill="#f5dbb6" stroke-width="1"/><rect x="1054" y="460" width="9" height="19.5" fill="#6c87a6"/><rect x="1051" y="479.3" width="15" height="2.7" fill="#e9eef2" stroke-width="1.1"/><rect x="1071" y="461" width="12.5" height="10.5" fill="#8cc0e0" stroke-width="1.3"/><path d="M1077.2,461 V471.5 M1071,466.2 H1083.5" stroke-width="1" fill="none"/><path d="M1024,482 Q1023.5,476 1029,475.5 Q1033,472.5 1038,474.5 Q1043,474 1045,478 Q1046,480 1045.5,482 Z" fill="#7cbf96"/><path d="M1071.5,482 Q1071,476 1076,475.5 Q1080,472.5 1085,474.5 Q1090,475 1091,479 L1091,482 Z" fill="#7cbf96"/><path d="M1018.8,482 H1092" stroke-width="1.8"/></g><g stroke="#2c4a5a" stroke-width="1.6" stroke-linejoin="round" stroke-linecap="round"><path d="M1146,482.1 L1166.1,445.9 L1186.4,482.1 Z" fill="#5e7d93"/><path d="M1160.5,456 L1166.1,445.9 L1171.6,455.8 L1169.5,454.5 L1168,457 L1165.5,455 L1163.5,457 Z" fill="#ffffff" stroke-width="1.2"/><path d="M1112,482.1 L1144.6,429.2 L1177,482.1 Z" fill="#7692a9"/><path d="M1144.6,429.2 L1177,482.1 H1150 L1147,447 Z" fill="#5f7f95" stroke="none"/><path d="M1112,482.1 L1144.6,429.2 L1177,482.1" fill="none"/><path d="M1135.5,444 L1144.6,429.2 L1153.8,444.2 L1151.5,443 L1149.5,446.5 L1147,444 L1144.5,447.7 L1142,444.5 L1139.5,446.5 L1137.5,443.5 Z" fill="#ffffff" stroke-width="1.2"/><path d="M1106.5,482.1 L1123.2,452.9 L1140,482.1 Z" fill="#7692a9"/><path d="M1118,462 L1123.2,452.9 L1128.4,462 L1126.5,460.8 L1125,463 L1123,461 L1121,463.5 L1119.5,461 Z" fill="#ffffff" stroke-width="1.2"/><path d="M1106.5,482.1 L1112.5,471.7 L1118,463 Q1126,464.5 1132,462.5 L1135,465 Q1141,468 1146.4,472.8 Q1152,477 1160,482.1 Z" fill="#7bb790"/><path d="M1127.9,482.1 Q1132,476 1142,473.5 Q1150,471.5 1157.6,469.1 Q1163,472 1172.4,482.1 Z" fill="#8fc7a0"/><path d="M1106,482.1 H1187" stroke-width="1.8"/></g><g stroke="#4d4232" stroke-width="1.30" stroke-linejoin="round"><polygon points="76.91,509.80 80.09,517.83 88.01,514.38 86.74,522.93 95.33,523.90 89.96,530.67 96.90,535.81 88.87,538.99 92.32,546.91 83.77,545.64 82.80,554.23 76.03,548.86 70.89,555.80 67.71,547.77 59.79,551.22 61.06,542.67 52.47,541.70 57.84,534.93 50.90,529.79 58.93,526.61 55.48,518.69 64.03,519.96 65.00,511.37 71.77,516.74" fill="#efc883"/><circle cx="73.90" cy="532.80" r="13.30" fill="#f6c35a"/></g><path d="M37.24,557.00 Q29.60,557.00 29.60,550.07 Q29.60,543.63 37.24,542.64 Q38.34,534.23 47.62,533.73 Q51.44,527.30 60.72,527.79 Q71.10,528.29 73.28,538.19 Q83.11,538.68 83.65,548.09 Q83.65,557.00 75.46,557.00 Z" fill="#dbe9f5" stroke="#2c4a5a" stroke-width="1.6" stroke-linejoin="round"/><path d="M33.97,553.04 Q35.06,555.02 38.34,555.02 H74.37 Q78.74,555.02 79.83,552.05" fill="none" stroke="#b7d2e6" stroke-width="1.5"/><path d="M40.80,572.00 L40.80,562.40 M36.64,569.60 L44.96,564.80 M36.64,564.80 L44.96,569.60 " stroke="#41698f" stroke-width="2.1" stroke-linecap="round"/><path d="M55.90,577.70 L55.90,565.70 M50.70,574.70 L61.10,568.70 M50.70,568.70 L61.10,574.70 " stroke="#41698f" stroke-width="2.1" stroke-linecap="round"/><path d="M71.50,572.00 L71.50,562.40 M67.34,569.60 L75.66,564.80 M67.34,564.80 L75.66,569.60 " stroke="#41698f" stroke-width="2.1" stroke-linecap="round"/><g stroke="#4d4232" stroke-width="1.30" stroke-linejoin="round"><polygon points="1041.60,519.30 1046.13,527.80 1054.30,522.70 1053.97,532.33 1063.60,532.00 1058.50,540.17 1067.00,544.70 1058.50,549.23 1063.60,557.40 1053.97,557.07 1054.30,566.70 1046.13,561.60 1041.60,570.10 1037.07,561.60 1028.90,566.70 1029.23,557.07 1019.60,557.40 1024.70,549.23 1016.20,544.70 1024.70,540.17 1019.60,532.00 1029.23,532.33 1028.90,522.70 1037.07,527.80" fill="#efc883"/><circle cx="1041.60" cy="544.70" r="14.60" fill="#f6c35a"/></g><path d="M1099.40,547.70 L1099.40,566.70 M1099.40,557.70 L1104.40,563.70 M1099.40,557.70 L1094.40,563.70 M1099.40,551.70 L1103.40,555.70 M1099.40,551.70 L1095.40,555.70 M1099.40,563.70 L1102.40,566.70 M1099.40,563.70 L1096.40,566.70 M1096.80,546.20 L1080.35,555.70 M1088.14,551.20 L1085.45,558.53 M1088.14,551.20 L1080.45,549.87 M1093.34,548.20 L1091.87,553.66 M1093.34,548.20 L1087.87,546.74 M1082.95,554.20 L1081.85,558.30 M1082.95,554.20 L1078.85,553.10 M1096.80,543.20 L1080.35,533.70 M1088.14,538.20 L1080.45,539.53 M1088.14,538.20 L1085.45,530.87 M1093.34,541.20 L1087.87,542.66 M1093.34,541.20 L1091.87,535.74 M1082.95,535.20 L1078.85,536.30 M1082.95,535.20 L1081.85,531.10 M1099.40,541.70 L1099.40,522.70 M1099.40,531.70 L1094.40,525.70 M1099.40,531.70 L1104.40,525.70 M1099.40,537.70 L1095.40,533.70 M1099.40,537.70 L1103.40,533.70 M1099.40,525.70 L1096.40,522.70 M1099.40,525.70 L1102.40,522.70 M1102.00,543.20 L1118.45,533.70 M1110.66,538.20 L1113.35,530.87 M1110.66,538.20 L1118.35,539.53 M1105.46,541.20 L1106.93,535.74 M1105.46,541.20 L1110.93,542.66 M1115.85,535.20 L1116.95,531.10 M1115.85,535.20 L1119.95,536.30 M1102.00,546.20 L1118.45,555.70 M1110.66,551.20 L1118.35,549.87 M1110.66,551.20 L1113.35,558.53 M1105.46,548.20 L1110.93,546.74 M1105.46,548.20 L1106.93,553.66 M1115.85,554.20 L1119.95,553.10 M1115.85,554.20 L1116.95,558.30" stroke="#4d7399" stroke-width="4.2" stroke-linecap="round" fill="none"/><path d="M1099.40,547.70 L1099.40,566.70 M1099.40,557.70 L1104.40,563.70 M1099.40,557.70 L1094.40,563.70 M1099.40,551.70 L1103.40,555.70 M1099.40,551.70 L1095.40,555.70 M1099.40,563.70 L1102.40,566.70 M1099.40,563.70 L1096.40,566.70 M1096.80,546.20 L1080.35,555.70 M1088.14,551.20 L1085.45,558.53 M1088.14,551.20 L1080.45,549.87 M1093.34,548.20 L1091.87,553.66 M1093.34,548.20 L1087.87,546.74 M1082.95,554.20 L1081.85,558.30 M1082.95,554.20 L1078.85,553.10 M1096.80,543.20 L1080.35,533.70 M1088.14,538.20 L1080.45,539.53 M1088.14,538.20 L1085.45,530.87 M1093.34,541.20 L1087.87,542.66 M1093.34,541.20 L1091.87,535.74 M1082.95,535.20 L1078.85,536.30 M1082.95,535.20 L1081.85,531.10 M1099.40,541.70 L1099.40,522.70 M1099.40,531.70 L1094.40,525.70 M1099.40,531.70 L1104.40,525.70 M1099.40,537.70 L1095.40,533.70 M1099.40,537.70 L1103.40,533.70 M1099.40,525.70 L1096.40,522.70 M1099.40,525.70 L1102.40,522.70 M1102.00,543.20 L1118.45,533.70 M1110.66,538.20 L1113.35,530.87 M1110.66,538.20 L1118.35,539.53 M1105.46,541.20 L1106.93,535.74 M1105.46,541.20 L1110.93,542.66 M1115.85,535.20 L1116.95,531.10 M1115.85,535.20 L1119.95,536.30 M1102.00,546.20 L1118.45,555.70 M1110.66,551.20 L1118.35,549.87 M1110.66,551.20 L1113.35,558.53 M1105.46,548.20 L1110.93,546.74 M1105.46,548.20 L1106.93,553.66 M1115.85,554.20 L1119.95,553.10 M1115.85,554.20 L1116.95,558.30" stroke="#e7f1f7" stroke-width="1.8" stroke-linecap="round" fill="none"/><circle cx="1099.4" cy="544.7" r="4" fill="#e7f1f7" stroke="#4d7399" stroke-width="1.3"/><path d="M1140.86,550.90 Q1133.30,550.90 1133.30,543.69 Q1133.30,537.00 1140.86,535.97 Q1141.94,527.21 1151.12,526.70 Q1154.90,520.00 1164.08,520.51 Q1174.34,521.03 1176.50,531.33 Q1186.22,531.85 1186.76,541.63 Q1186.76,550.90 1178.66,550.90 Z" fill="#cfe2f1" stroke="#2c4a5a" stroke-width="1.6" stroke-linejoin="round"/><path d="M1137.62,546.78 Q1138.70,548.84 1141.94,548.84 H1177.58 Q1181.90,548.84 1182.98,545.75" fill="none" stroke="#a9c8e0" stroke-width="1.5"/><path d="M1142.5,554.0 Q1144.8,559.0 1142.5,561.0 Q1140.2,561.0 1140.3,559.0 Q1142.5,554.0 1142.5,554.0 Z" fill="#e7f1f7" stroke="#4a6a80" stroke-width="1.3" transform="rotate(20 1142.5 558.0)"/><path d="M1158.0,554.0 Q1160.3,559.0 1158.0,561.0 Q1155.7,561.0 1155.8,559.0 Q1158.0,554.0 1158.0,554.0 Z" fill="#e7f1f7" stroke="#4a6a80" stroke-width="1.3" transform="rotate(20 1158.0 558.0)"/><path d="M1173.5,554.0 Q1175.8,559.0 1173.5,561.0 Q1171.2,561.0 1171.3,559.0 Q1173.5,554.0 1173.5,554.0 Z" fill="#e7f1f7" stroke="#4a6a80" stroke-width="1.3" transform="rotate(20 1173.5 558.0)"/><path d="M1149.0,563.0 Q1151.3,568.0 1149.0,570.0 Q1146.7,570.0 1146.8,568.0 Q1149.0,563.0 1149.0,563.0 Z" fill="#e7f1f7" stroke="#4a6a80" stroke-width="1.3" transform="rotate(20 1149.0 567.0)"/><path d="M1164.5,563.0 Q1166.8,568.0 1164.5,570.0 Q1162.2,570.0 1162.3,568.0 Q1164.5,563.0 1164.5,563.0 Z" fill="#e7f1f7" stroke="#4a6a80" stroke-width="1.3" transform="rotate(20 1164.5 567.0)"/><g stroke="#2c4a5a" stroke-width="1.6" stroke-linejoin="round" stroke-linecap="round"><path d="M1110,652.7 H1188" stroke="#6f828e" stroke-width="2" opacity="0.75"/><circle cx="1184.5" cy="641.5" r="5.2" fill="#dbe4ea" stroke="none"/><path d="M1114,646.7 Q1110,646 1109.5,642 L1107.5,637 L1111,632.5 L1109.5,629.5 L1115,627.5 L1121,629 L1128.3,628.3 L1137,620 Q1139.5,618 1143,618 H1166.5 Q1169,618 1171,620.5 L1177.2,624.9 L1183.5,627.5 Q1186,629 1186,632 L1185.5,636.5 Q1185,640 1181,641 L1178,646.7 Z" fill="#8ab8de"/><path d="M1132.5,631 L1138.5,622.5 Q1140,621.4 1142,621.4 H1151.5 V630.9 Z" fill="#cfe2f1" stroke-width="1.3"/><path d="M1154,621.4 H1166 Q1168,621.4 1170,623.5 L1172.5,627.5 L1154,630 Z" fill="#cfe2f1" stroke-width="1.3"/><path d="M1130.9,631 Q1130,638 1131.5,644.6 H1170 M1152.7,619 V644.6" stroke-width="1.3" fill="none"/><path d="M1111.1,624 L1117.2,623.2 L1125.7,628.3 M1117,626.6 L1127,629 M1178,624 L1181.5,620.6 L1185.3,621" fill="none" stroke-width="1.4"/><path d="M1126.6,609.4 Q1124.5,612 1127,615 Q1129,618 1126.5,620.5 Q1126,622.5 1127.4,624" fill="none" stroke-width="1.3"/><path d="M1143,634.5 H1147 M1165,633 H1169" stroke-width="1.2" fill="none"/><circle cx="1135" cy="632" r="1.7" fill="#8ab8de" stroke-width="1.1"/><circle cx="1121.9" cy="646.3" r="6.6" fill="#4d6d83"/><circle cx="1121.9" cy="646.3" r="3.1" fill="#c9dbe7" stroke-width="0.8"/><circle cx="1173.8" cy="646.3" r="6.6" fill="#4d6d83"/><circle cx="1173.8" cy="646.3" r="3.1" fill="#c9dbe7" stroke-width="0.8"/></g></svg>
</body></html>
